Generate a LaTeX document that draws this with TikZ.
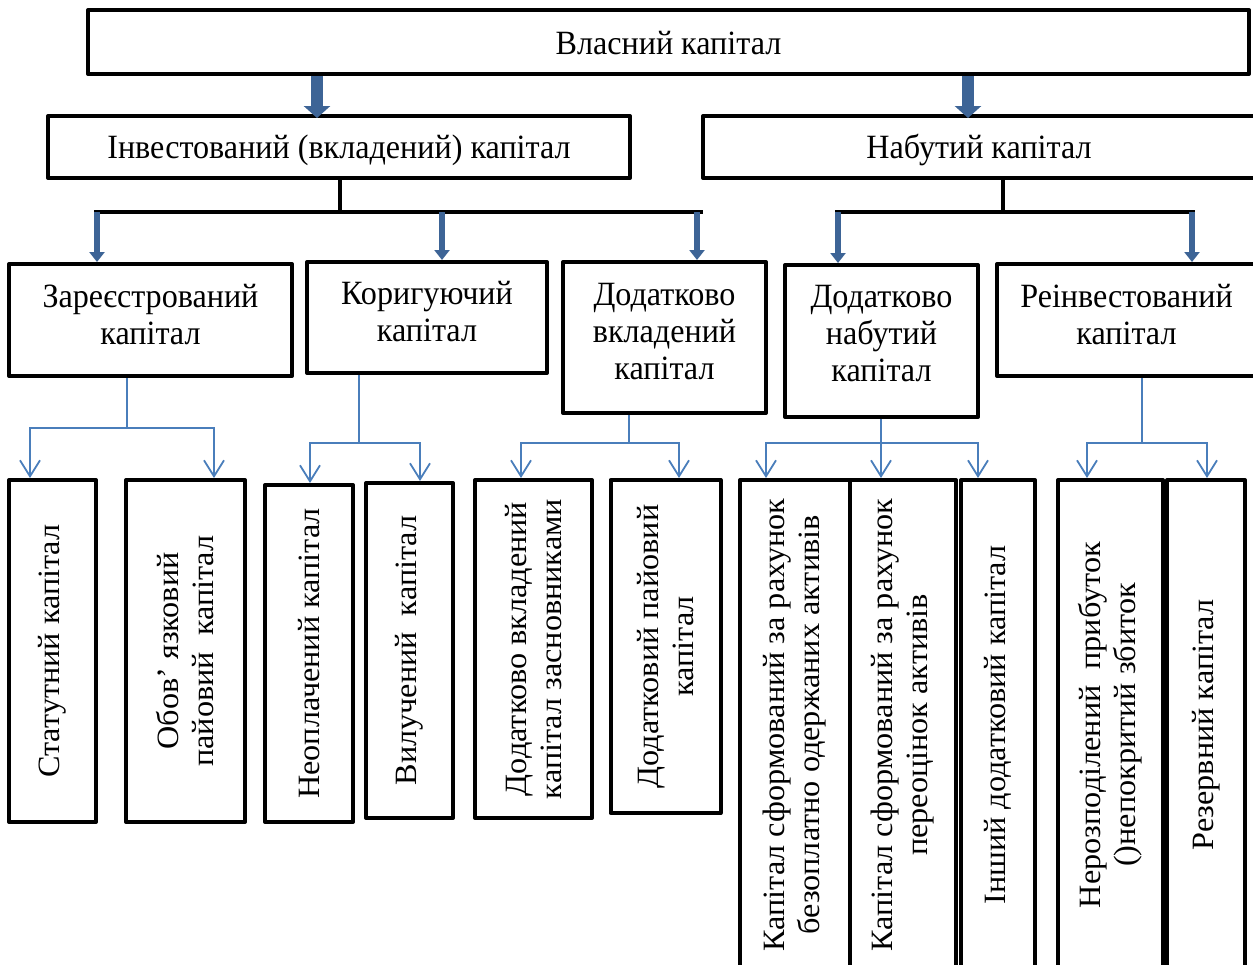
\documentclass[tikz,border=0pt]{standalone}
\usepackage{fontspec}
\setmainfont{Liberation Serif}
\newfontfamily\hfnt[FakeStretch=0.945]{Liberation Serif}
\newfontfamily\vfnt[FakeStretch=1.04]{Liberation Serif}
\usetikzlibrary{arrows.meta}
\definecolor{blk}{HTML}{3D6496}
\definecolor{thinb}{HTML}{4A7EBB}
\newcommand\lift[2]{\raisebox{#1}[\height][\depth]{\begin{tabular}{@{}c@{}}#2\end{tabular}}}
\tikzset{
  box/.style={draw=black, line width=4pt, rectangle, inner sep=2pt, align=center,
    font=\hfnt\fontsize{34}{37}\selectfont, line join=round},
  vbox/.style={box, rotate=90, font=\vfnt\fontsize{31}{35}\selectfont},
  bigarrow/.style={draw=blk, line width=12pt, -{Triangle[length=12pt,width=26pt]}, shorten >=-4pt},
  smallarrow/.style={draw=blk, line width=6pt, -{Triangle[length=10pt,width=15pt]}},
  bracket/.style={draw=black, line width=4pt},
  conn/.style={draw=thinb, line width=1.8pt},
  carrow/.style={conn, -{Straight Barb[length=16pt,width=20pt]}}
}
\begin{document}
\begin{tikzpicture}[x=1pt,y=-1pt]
\useasboundingbox (0,0) rectangle (1253,964);
\clip (0,0) rectangle (1253,964);
% level 0 and 1
\node[box, minimum width=1161pt, minimum height=64pt] (top) at (668.5,42) {\lift{-5pt}{Власний капітал}};
\node[box, minimum width=582pt, minimum height=62pt] (inv) at (339,147) {\lift{-4pt}{Інвестований (вкладений) капітал}};
\node[box, minimum width=552pt, minimum height=62pt] (nab) at (979,147) {\lift{-4pt}{Набутий капітал}};
% level 2
\node[box, minimum width=283pt, minimum height=112pt] (zar) at (150.5,320) {\lift{1.5pt}{Зареєстрований\\капітал}};
\node[box, minimum width=240pt, minimum height=111pt] (kor) at (427,317.5) {\lift{2pt}{Коригуючий\\капітал}};
\node[box, minimum width=203pt, minimum height=151pt] (dvk) at (664.5,337.5) {\lift{2pt}{Додатково\\вкладений\\капітал}};
\node[box, minimum width=193pt, minimum height=152pt] (dnk) at (881.5,341) {\lift{3.5pt}{Додатково\\набутий\\капітал}};
\node[box, minimum width=259pt, minimum height=112pt] (rei) at (1126.5,320) {\lift{1.5pt}{Реінвестований\\капітал}};
% level 3 (rotated)
\node[vbox, minimum width=342pt, minimum height=87pt] (stat) at (52.5,651) {Статутний капітал};
\node[vbox, minimum width=342pt, minimum height=119pt] (obov) at (185.5,651) {Обов’ язковий\\пайовий~~капітал};
\node[vbox, minimum width=337pt, minimum height=88pt] (neop) at (309,653.5) {Неоплачений капітал};
\node[vbox, minimum width=335pt, minimum height=87pt] (vyl) at (409.5,650.5) {Вилучений~~капітал};
\node[vbox, minimum width=338pt, minimum height=117pt] (dvkz) at (533.5,649) {Додатково вкладений\\капітал засновниками};
\node[vbox, minimum width=333pt, minimum height=110pt] (dpk) at (665.5,646.5) {Додатковий пайовий\\капітал};
\node[vbox, minimum width=490pt, minimum height=110pt] (ksf1) at (795,725) {Капітал сформований за рахунок\\безоплатно одержаних активів};
\node[vbox, minimum width=490pt, minimum height=106pt] (ksf2) at (903,725) {Капітал сформований за рахунок\\переоцінок активів};
\node[vbox, minimum width=490pt, minimum height=74pt] (insh) at (998,725) {Інший додатковий капітал};
\node[vbox, minimum width=490pt, minimum height=105pt] (ner) at (1110.5,725) {Нерозподілений~~прибуток\\()непокритий збиток};
\node[vbox, minimum width=490pt, minimum height=78pt] (rez) at (1206,725) {Резервний капітал};
% big arrows
\coordinate (ax1) at (317,0);
\coordinate (ax2) at (968,0);
\draw[bigarrow] (top.south -| ax1) -- (inv.north -| ax1);
\draw[bigarrow] (top.south -| ax2) -- (nab.north -| ax2);
% brackets
\coordinate (s1) at (340,212);
\coordinate (b1l) at (94,212);
\coordinate (b1r) at (703,212);
\coordinate (a11) at (97,212);
\coordinate (a12) at (442,212);
\coordinate (a13) at (697,212);
\draw[bracket] (inv.south -| s1) -- (s1);
\draw[bracket] (b1l) -- (b1r);
\draw[smallarrow] (a11) -- (zar.north -| a11);
\draw[smallarrow] (a12) -- (kor.north -| a12);
\draw[smallarrow] (a13) -- (dvk.north -| a13);
\coordinate (s2) at (1003,212);
\coordinate (b2l) at (835,212);
\coordinate (b2r) at (1195,212);
\coordinate (a21) at (838,212);
\coordinate (a22) at (1192,212);
\draw[bracket] (nab.south -| s2) -- (s2);
\draw[bracket] (b2l) -- (b2r);
\draw[smallarrow] (a21) -- (dnk.north -| a21);
\draw[smallarrow] (a22) -- (rei.north -| a22);
% thin connectors
\coordinate (j1) at (127,428);
\coordinate (x11) at (30,0);
\coordinate (x12) at (214,0);
\draw[conn] (zar.south -| j1) -- (j1);
\draw[carrow] (j1) -| (stat.east -| x11);
\draw[carrow] (j1) -| (obov.east -| x12);
\coordinate (j2) at (359,443);
\coordinate (x21) at (310,0);
\coordinate (x22) at (420,0);
\draw[conn] (kor.south -| j2) -- (j2);
\draw[carrow] (j2) -| (neop.east -| x21);
\draw[carrow] (j2) -| (vyl.east -| x22);
\coordinate (j3) at (629,443);
\coordinate (x31) at (521,0);
\coordinate (x32) at (679,0);
\draw[conn] (dvk.south -| j3) -- (j3);
\draw[carrow] (j3) -| (dvkz.east -| x31);
\draw[carrow] (j3) -| (dpk.east -| x32);
\coordinate (j4) at (881,443);
\coordinate (x41) at (766,0);
\coordinate (x42) at (881,0);
\coordinate (x43) at (978,0);
\draw[carrow] (dnk.south -| j4) -- (ksf2.east -| x42);
\draw[carrow] (j4) -| (ksf1.east -| x41);
\draw[carrow] (j4) -| (insh.east -| x43);
\coordinate (j5) at (1142,443);
\coordinate (x51) at (1087,0);
\coordinate (x52) at (1207,0);
\draw[conn] (rei.south -| j5) -- (j5);
\draw[carrow] (j5) -| (ner.east -| x51);
\draw[carrow] (j5) -| (rez.east -| x52);
\end{tikzpicture}
\end{document}
